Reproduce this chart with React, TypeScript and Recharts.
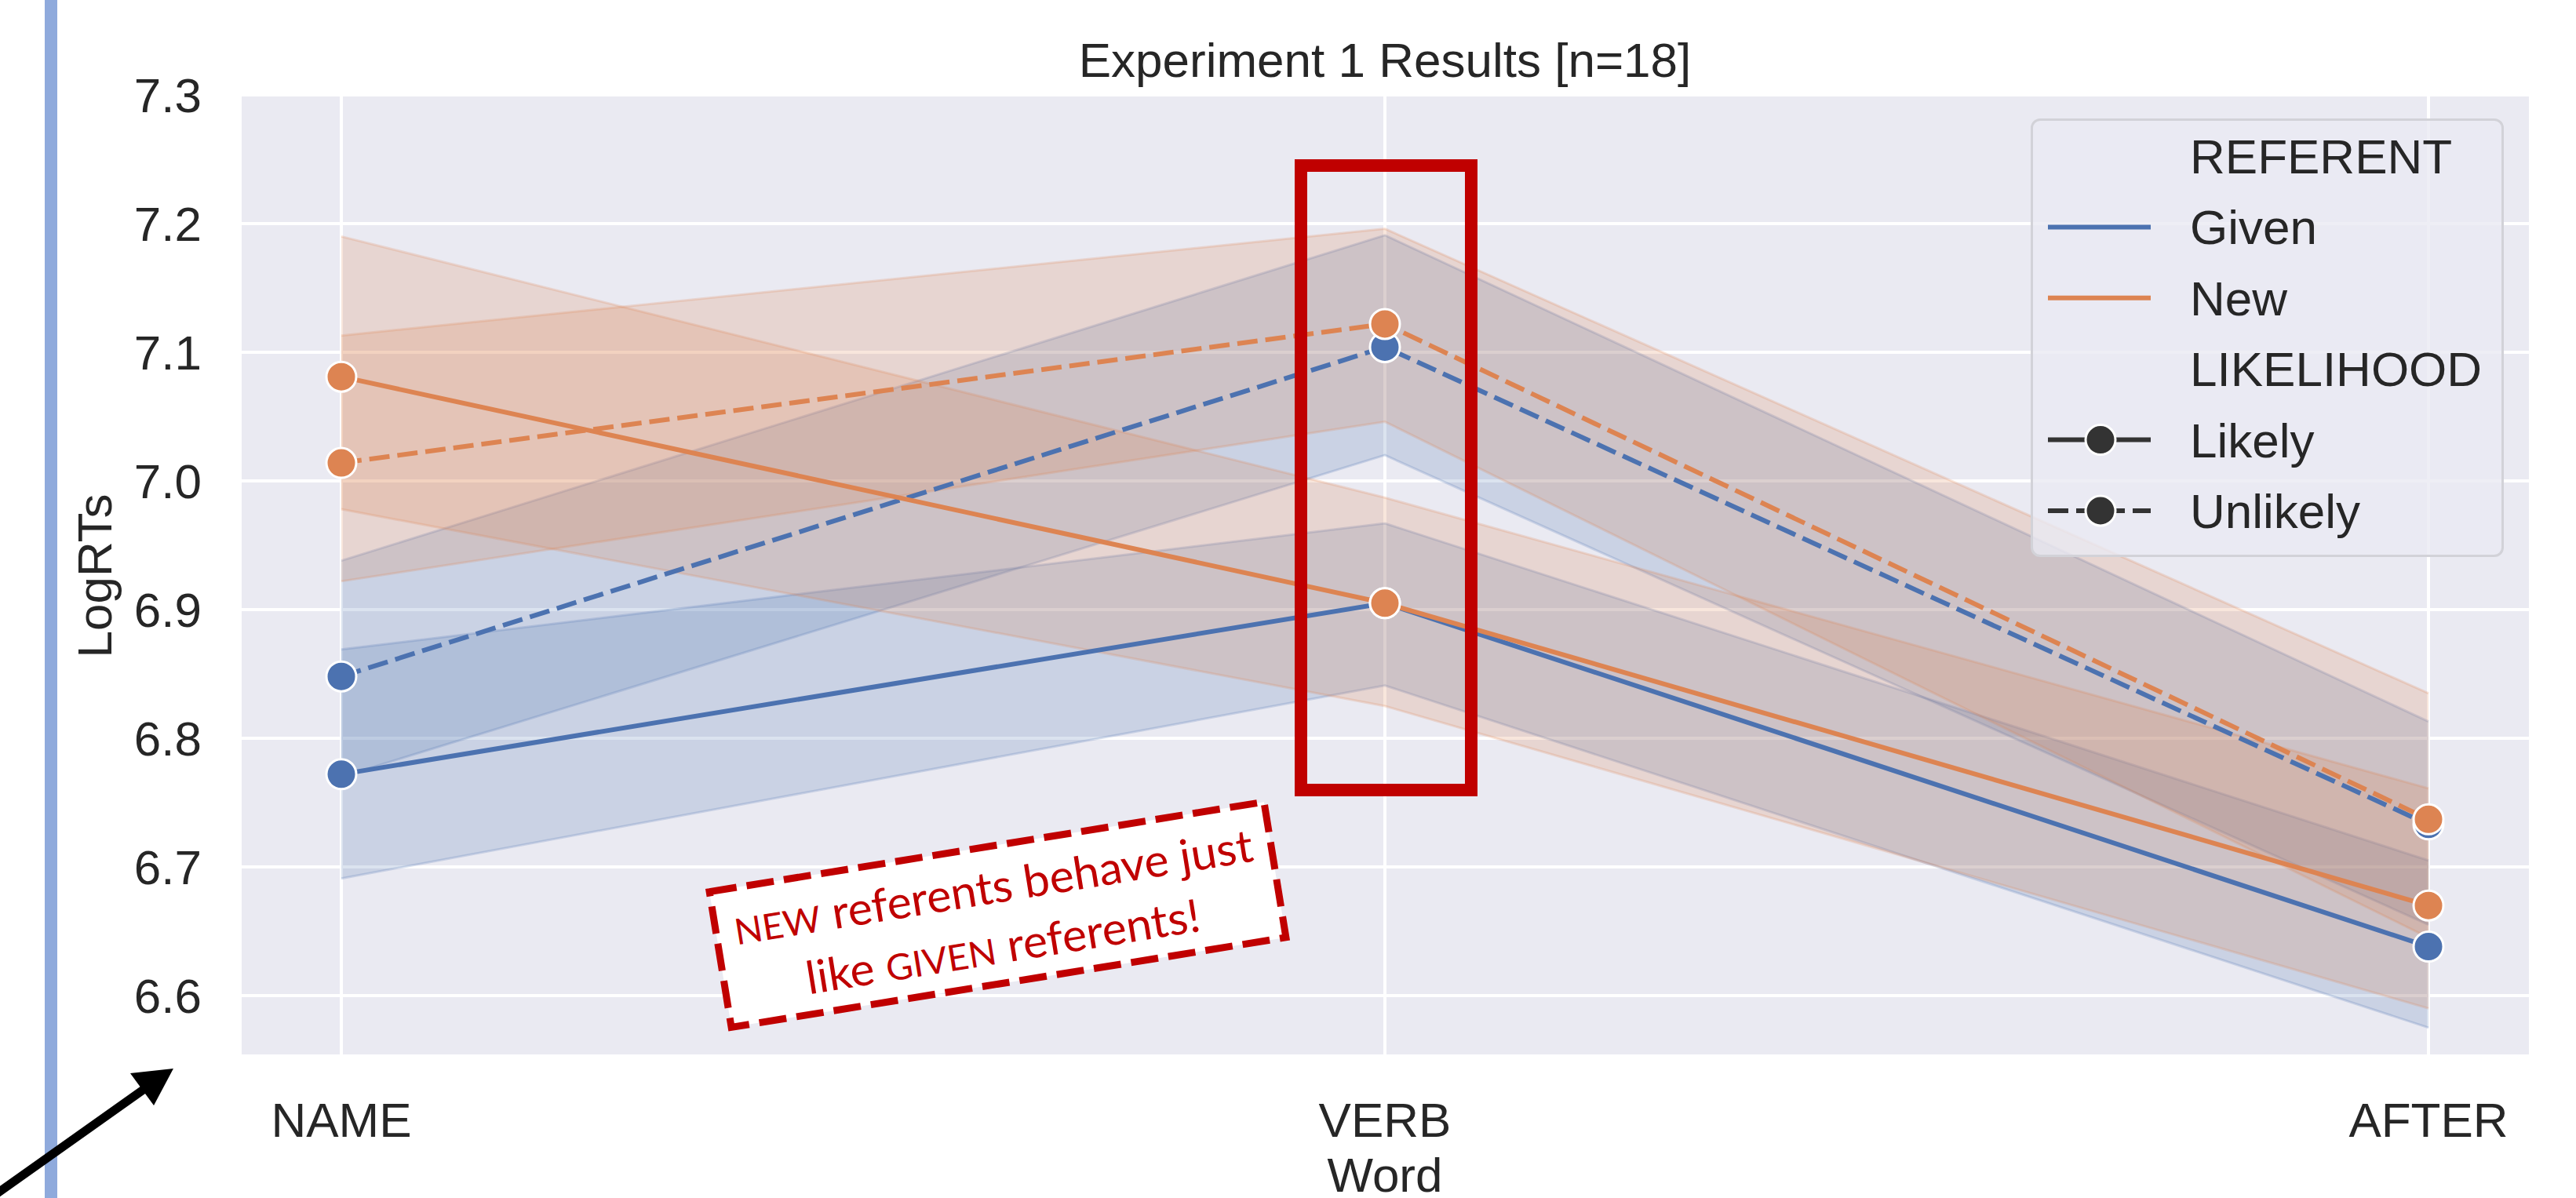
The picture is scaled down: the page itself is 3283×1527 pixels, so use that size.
import React from 'react';
import { ComposedChart, Area, Line, XAxis, YAxis, CartesianGrid, Legend } from 'recharts';

const W = 3283;
const H = 1527;
const FONT = '"Liberation Sans", Arial, sans-serif';
const INK = '#262626';
const BLUE = '#4C72B0';
const ORANGE = '#DD8452';
const RED = '#C00000';

const words = ['NAME', 'VERB', 'AFTER'];
const yTicks = [6.6, 6.7, 6.8, 6.9, 7.0, 7.1, 7.2, 7.3];

// REFERENT = Given, LIKELIHOOD = Likely
const givenLikely = [6.772, 6.905, 6.638];
const givenLikelyLow = [6.691, 6.841, 6.575];
const givenLikelyHigh = [6.869, 6.967, 6.705];

// Given, Unlikely
const givenUnlikely = [6.848, 7.104, 6.733];
const givenUnlikelyLow = [6.77, 7.02, 6.655];
const givenUnlikelyHigh = [6.938, 7.191, 6.813];

// New, Likely
const newLikely = [7.081, 6.905, 6.67];
const newLikelyLow = [6.978, 6.825, 6.59];
const newLikelyHigh = [7.19, 6.987, 6.761];

// New, Unlikely
const newUnlikely = [7.014, 7.122, 6.737];
const newUnlikelyLow = [6.922, 7.046, 6.645];
const newUnlikelyHigh = [7.113, 7.196, 6.835];

const data = words.map((word, i) => ({
  word,
  gl: givenLikely[i],
  glCi: [givenLikelyLow[i], givenLikelyHigh[i]],
  gu: givenUnlikely[i],
  guCi: [givenUnlikelyLow[i], givenUnlikelyHigh[i]],
  nl: newLikely[i],
  nlCi: [newLikelyLow[i], newLikelyHigh[i]],
  nu: newUnlikely[i],
  nuCi: [newUnlikelyLow[i], newUnlikelyHigh[i]],
}));

const series = [
  { key: 'gl', color: BLUE, dashed: false },
  { key: 'gu', color: BLUE, dashed: true },
  { key: 'nl', color: ORANGE, dashed: false },
  { key: 'nu', color: ORANGE, dashed: true },
];

const DASH = '26 10';

const legendRows = [
  { label: 'REFERENT' },
  { label: 'Given', color: BLUE },
  { label: 'New', color: ORANGE },
  { label: 'LIKELIHOOD' },
  { label: 'Likely', color: '#333333', marker: true },
  { label: 'Unlikely', color: '#333333', marker: true, dashed: true },
];

const XTick = ({ x, y, payload }: any) => (
  <text x={x} y={y + 103} textAnchor="middle" fontSize={62} fill={INK} fontFamily={FONT}>
    {payload.value}
  </text>
);

const YTick = ({ x, y, payload }: any) => (
  <text x={x - 49} y={y + 22} textAnchor="end" fontSize={62} fill={INK} fontFamily={FONT}>
    {Number(payload.value).toFixed(1)}
  </text>
);

function LegendBox() {
  return (
    <div
      style={{
        width: 603,
        height: 559,
        boxSizing: 'border-box',
        border: '3px solid #D2D2D8',
        borderRadius: 12,
        background: 'rgba(234,234,242,0.8)',
      }}
    >
      <svg width={597} height={553} style={{ display: 'block' }}>
        {legendRows.map((row, i) => {
          const y = 45 + i * 90.4;
          return (
            <g key={row.label}>
              {row.color && (
                <line
                  x1={19}
                  x2={150}
                  y1={y}
                  y2={y}
                  stroke={row.color}
                  strokeWidth={6}
                  strokeDasharray={row.dashed ? DASH : undefined}
                />
              )}
              {row.marker && <circle cx={86} cy={y} r={19} fill={row.color} stroke="#fff" strokeWidth={3} />}
              <text x={200} y={y + 22} fontSize={62} fill={INK} fontFamily={FONT}>
                {row.label}
              </text>
            </g>
          );
        })}
      </svg>
    </div>
  );
}

export default function App() {
  return (
    <div style={{ position: 'absolute', left: 0, top: 0, width: W, height: H, background: '#fff' }}>
      <ComposedChart width={W} height={H} data={data} margin={{ top: 121, right: 58, bottom: 0, left: 0 }}>
        <CartesianGrid fill="#EAEAF2" stroke="#fff" strokeWidth={4} />
        <XAxis
          dataKey="word"
          type="category"
          scale="point"
          padding={{ left: 129, right: 130 }}
          height={181}
          axisLine={false}
          tickLine={false}
          tickSize={0}
          tickMargin={0}
          interval={0}
          tick={<XTick />}
        />
        <YAxis
          type="number"
          domain={[6.553, 7.3]}
          ticks={yTicks}
          allowDataOverflow
          width={306}
          axisLine={false}
          tickLine={false}
          tickSize={0}
          tickMargin={0}
          interval={0}
          tick={<YTick />}
        />
        {series.map((s) => (
          <Area
            key={s.key + 'Ci'}
            type="linear"
            dataKey={s.key + 'Ci'}
            fill={s.color}
            fillOpacity={0.2}
            stroke={s.color}
            strokeOpacity={0.22}
            strokeWidth={3}
            dot={false}
            activeDot={false}
            isAnimationActive={false}
          />
        ))}
        {series.map((s) => (
          <Line
            key={s.key}
            type="linear"
            dataKey={s.key}
            stroke={s.color}
            strokeWidth={6}
            strokeDasharray={s.dashed ? DASH : undefined}
            dot={{ r: 19, fill: s.color, stroke: '#fff', strokeWidth: 3, strokeDasharray: 'none' }}
            activeDot={false}
            isAnimationActive={false}
          />
        ))}
        <Legend
          layout="horizontal"
          verticalAlign="middle"
          align="center"
          content={() => <LegendBox />}
          wrapperStyle={{ left: 2588, top: 151, width: 603, height: 559 }}
        />
      </ComposedChart>

      <svg width={W} height={H} style={{ position: 'absolute', left: 0, top: 0, pointerEvents: 'none' }}>
        <rect x={57} y={0} width={16} height={H} fill="#8FAADC" />
        <text x={1765} y={98} textAnchor="middle" fontSize={62} fill={INK} fontFamily={FONT}>
          Experiment 1 Results [n=18]
        </text>
        <text transform="translate(142 734) rotate(-90)" textAnchor="middle" fontSize={62} fill={INK} fontFamily={FONT}>
          LogRTs
        </text>
        <text x={1765} y={1519} textAnchor="middle" fontSize={62} fill={INK} fontFamily={FONT}>
          Word
        </text>

        <rect x={1658} y={211} width={217} height={796} fill="none" stroke={RED} strokeWidth={16} />

        <g transform="translate(1271.5 1165.75) rotate(-9.2)">
          <rect x={-358} y={-87.5} width={716} height={175} fill="#fff" stroke={RED} strokeWidth={9} strokeDasharray="35 13" />
          <text
            x={0}
            y={-15}
            textAnchor="middle"
            fontSize={58}
            fill={RED}
            fontFamily="Lato, 'Open Sans', sans-serif"
            textLength={669}
            lengthAdjust="spacingAndGlyphs"
          >
            <tspan fontSize={46}>NEW</tspan> referents behave just
          </text>
          <text
            x={0}
            y={62}
            textAnchor="middle"
            fontSize={58}
            fill={RED}
            fontFamily="Lato, 'Open Sans', sans-serif"
            textLength={508}
            lengthAdjust="spacingAndGlyphs"
          >
            like <tspan fontSize={46}>GIVEN</tspan> referents!
          </text>
        </g>

        <line x1={-12} y1={1527} x2={184} y2={1388} stroke="#000" strokeWidth={11} />
        <polygon points="221,1362 166,1368 196,1409" fill="#000" />
      </svg>
    </div>
  );
}
